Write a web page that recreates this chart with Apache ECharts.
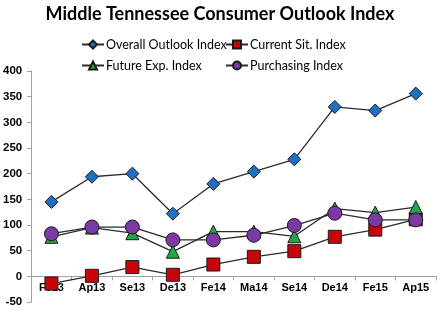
<!DOCTYPE html>
<html>
<head>
<meta charset="utf-8">
<script src="https://cdn.jsdelivr.net/npm/echarts@6/dist/echarts.min.js"></script>
<style>
  html, body { margin: 0; padding: 0; background: #fff; }
  #chart { width: 440px; height: 331px; }
</style>
</head>
<body>
<div id="chart"></div>
<script>
// Survey periods
const categories = ['Fe13', 'Ap13', 'Se13', 'De13', 'Fe14', 'Ma14', 'Se14', 'De14', 'Fe15', 'Ap15'];

// Index values per period
const overallOutlook = [145, 194, 200, 122, 180, 204, 228, 330, 323, 356];
const currentSit     = [-14, 1, 18, 3, 23, 38, 49, 77, 91, 111];
const futureExp      = [77, 95, 84, 48, 87, 87, 78, 132, 124, 135];
const purchasing     = [83, 96, 96, 71, 71, 80, 99, 123, 110, 110];

// Y axis range
const yMin = -50, yMax = 400, yStep = 50;

// Plot box
const W = 440, H = 331;
const grid = { left: 25, right: 4, top: 71, bottom: 29 };
const plotH = H - grid.top - grid.bottom;
// The category axis sits on the zero line: lift it from the bottom edge
const zeroLift = plotH * (0 - yMin) / (yMax - yMin);

const lineStyle = { color: '#2b2b2b', width: 1.3 };
const markerBorder = { borderColor: '#1a1a1a', borderWidth: 1 };

function series(name, data, symbol, size, color) {
  return {
    name, type: 'line', data, symbol, symbolSize: size,
    lineStyle, itemStyle: Object.assign({ color }, markerBorder),
    emphasis: { disabled: true }, animation: false
  };
}

const legendText = { fontFamily: 'Lato', fontSize: 12.5, color: '#000', padding: [0, 0, 0, -3] };

const chart = echarts.init(document.getElementById('chart'));
chart.setOption({
  backgroundColor: '#fff',
  title: {
    text: 'Middle Tennessee Consumer Outlook Index',
    left: 'center', top: 0,
    textStyle: { fontFamily: 'Lato', fontWeight: 'bold', fontSize: 18, color: '#000' }
  },
  legend: [
    {
      orient: 'vertical', left: 76, top: 33, itemGap: 8,
      itemWidth: 22, itemHeight: 10,
      data: ['Overall Outlook Index', 'Future Exp. Index'],
      textStyle: legendText
    },
    {
      orient: 'vertical', left: 220, top: 33, itemGap: 8,
      itemWidth: 22, itemHeight: 10,
      data: ['Current Sit. Index', 'Purchasing Index'],
      textStyle: legendText
    }
  ],
  grid: grid,
  xAxis: {
    type: 'category', data: categories, boundaryGap: true,
    position: 'bottom', offset: -zeroLift,
    axisLine: { onZero: false, lineStyle: { color: '#a0a0a0' } },
    axisTick: { show: true, length: 4, lineStyle: { color: '#a0a0a0' } },
    axisLabel: { fontFamily: 'Arial', fontWeight: 'bold', fontSize: 11, color: '#000', margin: 6 },
    splitLine: { show: false }
  },
  yAxis: {
    type: 'value', min: yMin, max: yMax, interval: yStep,
    axisLine: { show: true, onZero: false, lineStyle: { color: '#a0a0a0' } },
    axisTick: { show: true, length: 4, lineStyle: { color: '#a0a0a0' } },
    axisLabel: { fontFamily: 'Arial', fontWeight: 'bold', fontSize: 11.5, color: '#000', margin: 9 },
    splitLine: { show: false }
  },
  series: [
    series('Overall Outlook Index', overallOutlook, 'diamond', 13, '#1f6fc4'),
    series('Current Sit. Index', currentSit, 'rect', 13, '#c8050a'),
    series('Future Exp. Index', futureExp, 'triangle', 13, '#1ea84a'),
    series('Purchasing Index', purchasing, 'circle', 14, '#7a3aa6')
  ]
});
</script>
</body>
</html>
